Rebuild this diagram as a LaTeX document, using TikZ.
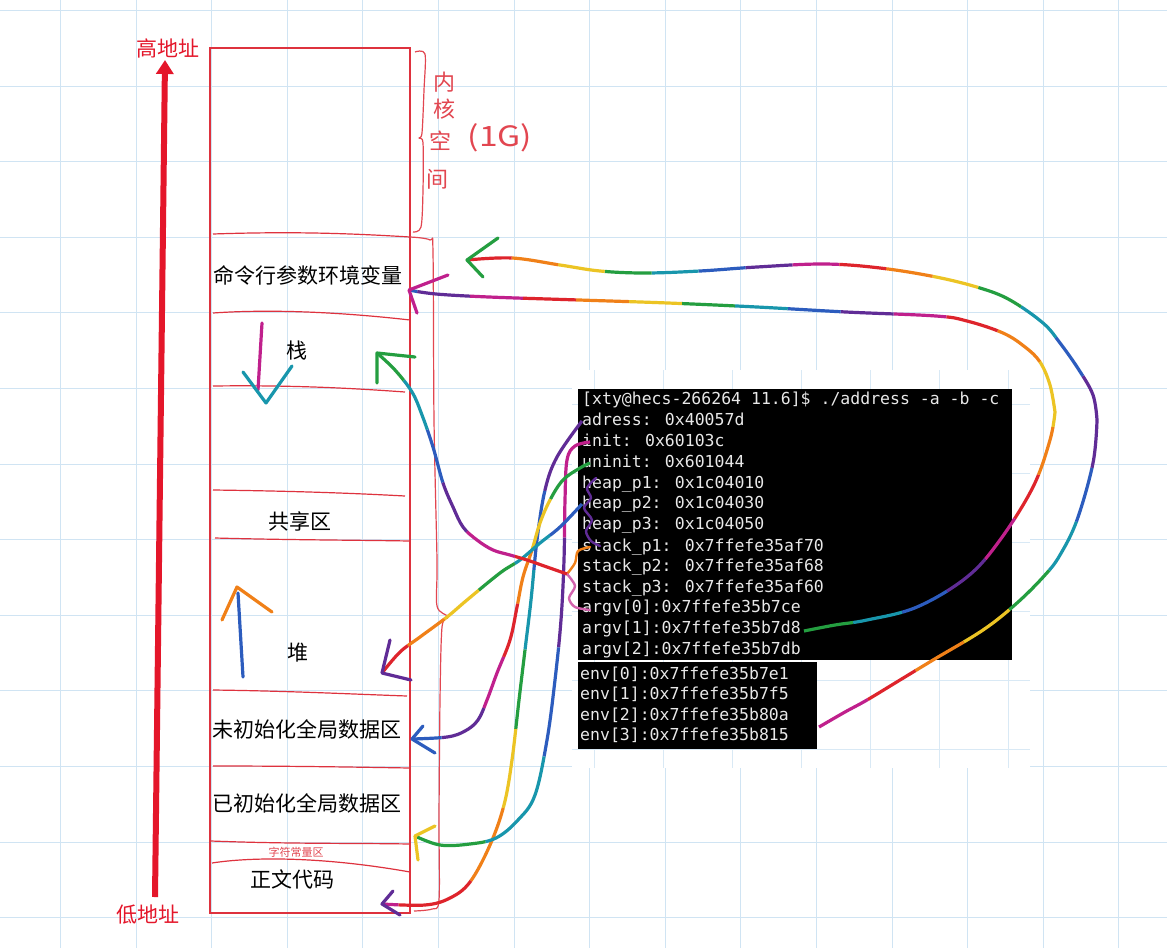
\documentclass[tikz,border=0pt]{standalone}
\usepackage{fontspec}
\newfontfamily\cjk{Noto Sans CJK SC}
\newfontfamily\tmono{DejaVu Sans Mono}
\usetikzlibrary{arrows.meta}
\definecolor{gridc}{RGB}{208,228,243}
\definecolor{memred}{RGB}{222,50,62}
\definecolor{bigred}{RGB}{228,22,42}
\definecolor{hand}{RGB}{226,70,80}
\definecolor{termfg}{RGB}{232,232,232}
\definecolor{rbred}{RGB}{222,36,44}
\definecolor{rborange}{RGB}{240,128,24}
\definecolor{rbyellow}{RGB}{236,196,36}
\definecolor{rbgreen}{RGB}{36,158,64}
\definecolor{rbteal}{RGB}{24,150,172}
\definecolor{rbblue}{RGB}{44,92,190}
\definecolor{rbpurple}{RGB}{96,44,150}
\definecolor{rbmagenta}{RGB}{192,32,140}
\def\fwdlist{rbred,rborange,rbyellow,rbgreen,rbteal,rbblue,rbpurple,rbmagenta}
\def\revlist{rbmagenta,rbpurple,rbblue,rbteal,rbgreen,rbyellow,rborange,rbred}
% #1 segment length, #2 start colour index, #3 colour list, #4 path
\newcommand\rbow[4]{%
  \foreach \rbc [count=\rbi from 0] in #3 {%
    \pgfmathsetmacro\rbph{mod((8-\rbi+#2)*#1, 8*#1)}%
    \pgfmathsetmacro\rboff{7*#1}%
    \draw[rbline, draw=\rbc, dash pattern=on #1pt off \rboff pt, dash phase=\rbph pt] #4;
  }}
\tikzset{
  gridl/.style={draw=gridc, line width=1pt},
  pgrid/.style={draw=gridc!80, line width=0.8pt},
  mem/.style={draw=memred, line width=1.2pt},
  lbl/.style={font=\cjk\fontsize{21}{24}\selectfont, inner sep=0pt},
  redlbl/.style={lbl, text=bigred},
  handt/.style={font=\cjk\fontsize{22}{24}\selectfont, text=hand, inner sep=0pt},
  term/.style={font=\tmono\fontsize{16.5}{20}\selectfont, text=termfg, anchor=west, inner sep=0pt, text height=12pt, text depth=3.5pt},
  rbline/.style={line width=3.2pt, line cap=butt, line join=round},
  ahead/.style={line width=3.2pt, line cap=round, line join=round},
  squig/.style={line width=2.4pt, line cap=round, line join=round},
}
\begin{document}
\begin{tikzpicture}[x=1pt,y=-1pt]
\useasboundingbox (0,0) rectangle (1167,948);
\fill[white] (0,0) rectangle (1167,948);
% grid
\foreach \k in {0,...,14} \draw[gridl] ({60.5+75.6*\k},0) -- ++(0,948);
\foreach \k in {0,...,12} \draw[gridl] (0,{10.5+75.6*\k}) -- ++(1167,0);
% pasted screenshot area
\fill[white] (572,370) rectangle (1030,768);
\foreach \k in {0,...,6} \draw[pgrid] ({594+69*\k},370) -- ++(0,398);
\foreach \k in {0,...,5} \draw[pgrid] (572,{404+69*\k}) -- ++(458,0);

% address arrow
\node[redlbl] (hi) at (168,48) {高地址};
\node[redlbl] (lo) at (148,915) {低地址};
\coordinate (abot) at (155,897);
\coordinate (atop) at (165,60);
\draw[bigred, line width=6pt, -{Triangle[length=14pt,width=17pt]}] (abot) -- (atop);

% memory column
\draw[mem] (210,48) rectangle (410,913);
\draw[mem] (213,234) .. controls (300,231) and (360,234) .. (410,237);
\draw[mem] (213,313) .. controls (270,309) and (340,312) .. (410,320);
\draw[mem] (213,386) .. controls (290,385) and (350,388) .. (405,392);
\draw[mem] (213,490) .. controls (290,491) and (350,493) .. (405,496);
\draw[mem] (215,538) .. controls (290,540) and (350,540) .. (410,541);
\draw[mem] (213,690) .. controls (290,691) and (350,694) .. (407,696);
\draw[mem] (213,766) .. controls (290,766) and (350,767) .. (410,768);
\draw[mem] (211,841) .. controls (290,844) and (350,843) .. (410,844);
\draw[mem] (212,863) .. controls (250,857) and (320,856) .. (410,872);

\node[lbl] (cmd) at (308,275) {命令行参数环境变量};
\node[lbl] (stk) at (297,351) {栈};
\node[lbl] (shr) at (300,521) {共享区};
\node[lbl] (heap) at (298,653) {堆};
\node[lbl] (bss) at (307,729) {未初始化全局数据区};
\node[lbl] (data) at (307,803) {已初始化全局数据区};
\node[font=\cjk\fontsize{11}{12}\selectfont, text=hand, inner sep=0pt] (rodata) at (296,852) {字符常量区};
\node[lbl] (code) at (292,879) {正文代码};

% arrows inside stack and heap
\draw[ahead, rbmagenta] (262,323) -- (258,390);
\draw[ahead, rbteal] (243,372) -- (266,403) -- (292,366);
\draw[ahead, rbblue] (243,677) -- (238,593);
\draw[ahead, rborange] (222,620) -- (237,587) -- (272,612);

% braces
\draw[hand, line width=1.2pt, line join=round] plot[smooth, tension=0.5] coordinates {(415,52) (425,54) (424,90) (422,133) (419,138) (423,143) (423,190) (421,227) (413,232)};
\draw[hand, line width=1.2pt, line join=round] plot[smooth, tension=0.5] coordinates {(410,237) (430,240) (433,253) (434,420) (437,560) (437,606) (448,617) (442,627) (440,700) (439,820) (439,900) (432,909) (414,911)};
\node[handt] (k1) at (444,82) {内};
\node[handt] (k2) at (444,109) {核};
\node[handt] (k3) at (440,141) {空};
\node[handt] (k4) at (437,179) {间};
\node[font=\cjk\fontsize{28}{30}\selectfont, text=hand, inner sep=0pt, xscale=1.2] (kg) at (500,138) {(1G)};

% terminal
\fill[black] (578,389) rectangle (1012,660);
\fill[black] (578,662) rectangle (817,749);
\node[term] (l0) at (582,400) {[xty@hecs-266264 11.6]\$ ./address -a -b -c};
\node[term] (adr) at (582,421) {adress: 0x40057d};
\node[term] (ini) at (582,442) {init: 0x60103c};
\node[term] (unini) at (582,463) {uninit: 0x601044};
\node[term] (hp1) at (582,484) {heap\_p1: 0x1c04010};
\node[term] (hp2) at (582,504) {heap\_p2: 0x1c04030};
\node[term] (hp3) at (582,525) {heap\_p3: 0x1c04050};
\node[term] (sp1) at (582,547) {stack\_p1: 0x7ffefe35af70};
\node[term] (sp2) at (582,567) {stack\_p2: 0x7ffefe35af68};
\node[term] (sp3) at (582,588) {stack\_p3: 0x7ffefe35af60};
\node[term] (av0) at (582,608) {argv[0]:0x7ffefe35b7ce};
\node[term] (av1) at (582,629) {argv[1]:0x7ffefe35b7d8};
\node[term] (av2) at (582,650) {argv[2]:0x7ffefe35b7db};
\node[term] (ev0) at (580,675) {env[0]:0x7ffefe35b7e1};
\node[term] (ev1) at (580,695) {env[1]:0x7ffefe35b7f5};
\node[term] (ev2) at (580,716) {env[2]:0x7ffefe35b80a};
\node[term] (ev3) at (580,736) {env[3]:0x7ffefe35b815};

% arrow tips (targets)
\coordinate (tCode) at (382,904);
\coordinate (tInit) at (415,836);
\coordinate (tUninit) at (412,739);
\coordinate (tHeap) at (382,673);
\coordinate (tStack) at (377,353);
\coordinate (tArgL) at (409,290);
\coordinate (tEnv) at (467,260);
\coordinate (sq) at ([xshift=-15pt,yshift=-7pt]sp2.west);
\coordinate (g0) at ([xshift=3pt,yshift=-2pt]av1.east);
\coordinate (gT) at (1055,412);
\coordinate (h0) at ([xshift=30pt,yshift=9pt]ev3.east);
\coordinate (hT) at (1097,420);

% squiggles on terminal lines
\draw[squig, rbpurple] plot[smooth] coordinates {(596,478) (587,488) (591,498) (584,508) (592,520) (586,531) (591,541) (600,546)};
\draw[squig, rborange] plot[smooth] coordinates {(590,547) (578,551) (575,563) (sq)};
\draw[squig, rbmagenta!70] plot[smooth] coordinates {(sq) (575,586) (569,598) (575,607) (590,610)};

% rainbow connectors
\rbow{80}{1}{\revlist}{plot[smooth, tension=0.6] coordinates {(adr.west) (557,457) (545,490) (537,540) (531,600) (525,650) (519,700) (512,760) (504,805) (490,845) (470,882) (450,898) (425,905) (tCode)}}
\rbow{110}{0}{\revlist}{plot[smooth, tension=0.6] coordinates {([xshift=8pt]ini.west) (575,446) (567,460) (565,500) (564,560) (561,620) (555,680) (547,740) (535,795) (518,820) (496,838) (470,844) (440,845) (tInit)}}
\rbow{55}{4}{\revlist}{plot[smooth, tension=0.6] coordinates {([xshift=8pt]unini.west) (580,468) (563,480) (550,500) (540,523) (532,550) (523,577) (517,607) (510,640) (497,673) (487,700) (478,720) (465,731) (447,737) (tUninit)}}
\rbow{45}{2}{\revlist}{plot[smooth, tension=0.6] coordinates {(hp2.west) (560,527) (540,543) (520,560) (500,573) (467,600) (447,617) (420,637) (400,652) (tHeap)}}
\rbow{55}{7}{\revlist}{plot[smooth, tension=0.6] coordinates {(sq) (547,567) (527,560) (510,555) (493,550) (477,540) (463,527) (453,507) (443,483) (433,447) (422,415) (412,392) (395,370) (tStack)}}
\rbow{50}{3}{\fwdlist}{plot[smooth, tension=0.6] coordinates {(g0) (835,625) (867,620) (917,607) (967,577) (1000,540) (1033,487) (1050,440) (gT)}}
\rbow{53}{5}{\revlist}{plot[smooth, tension=0.6] coordinates {(gT) (1050,385) (1040,362) (1025,347) (1003,333) (967,321) (936,316) (846,312) (757,307) (668,303) (579,300) (489,297) (436,294) (tArgL)}}
\rbow{56}{7}{\fwdlist}{plot[smooth, tension=0.6] coordinates {(h0) (845,712) (867,700) (900,680) (933,660) (983,630) (1017,603) (1045,575) (1060,555) (1077,520) (1093,463) (hT)}}
\rbow{47}{1}{\revlist}{plot[smooth, tension=0.6] coordinates {(hT) (1093,395) (1079,370) (1060,343) (1043,323) (1010,300) (980,288) (936,277) (880,268) (824,264) (757,267) (700,271) (645,273) (600,271) (560,265) (512,258) (tEnv)}}

% arrowheads
\draw[ahead, rbpurple] (393,891) -- (tCode) -- (400,915);
\draw[ahead, rbyellow] (435,826) -- (tInit) -- (418,860);
\draw[ahead, rbblue] (423,726) -- (tUninit) -- (435,753);
\draw[ahead, rbpurple] (390,640) -- (tHeap) -- (411,680);
\draw[ahead, rbgreen] (377,383) -- (tStack) -- (415,357);
\draw[ahead, rbmagenta] (448,275) -- (tArgL) -- (417,313);
\draw[ahead, rbgreen] (498,238) -- (tEnv) -- (483,277);
\end{tikzpicture}
\end{document}
